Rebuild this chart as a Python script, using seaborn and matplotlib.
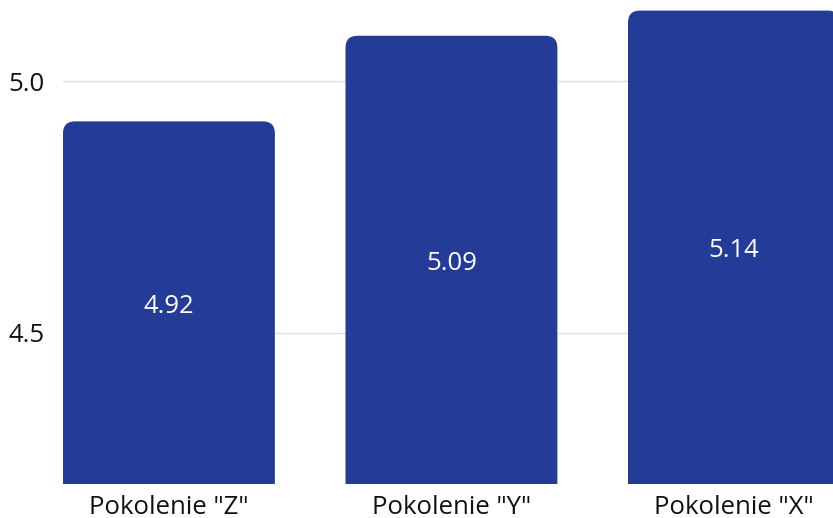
import matplotlib
matplotlib.use("Agg")
import matplotlib.pyplot as plt
from matplotlib.patches import FancyBboxPatch
import seaborn as sns
import pandas as pd

categories = ['Pokolenie "Z"', 'Pokolenie "Y"', 'Pokolenie "X"']
values = [4.92, 5.09, 5.14]
value_labels = ["4.92", "5.09", "5.14"]
yticks = [4.5, 5.0]
ytick_labels = ["4.5", "5.0"]

BAR_COLOR = "#243C97"
FS = 18.5

sns.set_theme(style="white")
plt.rcParams["font.family"] = ["Open Sans", "DejaVu Sans"]

W, H = 833, 518
fig = plt.figure(figsize=(W / 100, H / 100), dpi=100)
ax_l, ax_r, ax_t, ax_b = 63, 833, 0, 484
ax = fig.add_axes([ax_l / W, (H - ax_b) / H, (ax_r - ax_l) / W, (ax_b - ax_t) / H])

df = pd.DataFrame({"cat": categories, "val": values})
sns.barplot(data=df, x="cat", y="val", color=BAR_COLOR, width=0.75,
            saturation=1, ax=ax, zorder=3)

xlim = (-0.375, -0.375 + (ax_r - ax_l) / 282.5)
ylim = (4.2, 5.161)
ax.set_xlim(*xlim)
ax.set_ylim(*ylim)

px_per_x = (ax_r - ax_l) / (xlim[1] - xlim[0])
px_per_y = (ax_b - ax_t) / (ylim[1] - ylim[0])
radius_px = 12
r = radius_px / px_per_x
aspect = px_per_x / px_per_y

for p in list(ax.patches):
    x0, y0 = p.get_x(), p.get_y()
    w, h = p.get_width(), p.get_height()
    fb = FancyBboxPatch((x0, y0), w, h,
                        boxstyle=f"round,pad=0,rounding_size={r}",
                        mutation_aspect=aspect,
                        facecolor=BAR_COLOR, edgecolor="none", zorder=3)
    p.remove()
    ax.add_patch(fb)

for i, (v, lab) in enumerate(zip(values, value_labels)):
    ax.text(i, (ylim[0] + v) / 2 - 3.5 / px_per_y, lab, ha="center", va="center",
            color="white", fontsize=FS, zorder=4)

ax.set_yticks(yticks)
ax.set_yticklabels(ytick_labels)
ax.yaxis.grid(True, color="#e0e0e0", linewidth=1.0, zorder=0)
ax.xaxis.grid(False)
ax.set_axisbelow(True)
for s in ax.spines.values():
    s.set_visible(False)
ax.tick_params(axis="both", length=0, labelsize=FS, colors="#111111")
ax.tick_params(axis="y", pad=13)
ax.tick_params(axis="x", pad=8)
ax.set_xlabel("")
ax.set_ylabel("")

fig.savefig("out.png", dpi=100)
